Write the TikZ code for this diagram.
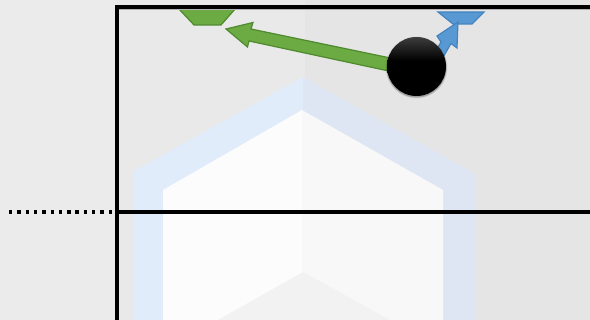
\documentclass[tikz,border=0pt]{standalone}
\definecolor{bgL}{HTML}{EBEBEB}
\definecolor{bgM}{HTML}{E9E9E9}
\definecolor{bgR}{HTML}{E5E5E5}
\definecolor{bluL}{HTML}{E0ECFA}
\definecolor{bluR}{HTML}{DEE5F3}
\definecolor{whL}{HTML}{FCFCFC}
\definecolor{whR}{HTML}{F8F8F8}
\definecolor{inn}{HTML}{F2F2F2}
\definecolor{grn}{HTML}{6CAA43}
\definecolor{grnD}{HTML}{4F8A2E}
\definecolor{blu}{HTML}{5898D3}
\definecolor{bluD}{HTML}{4484BE}
\pgfdeclareverticalshading{ballshade}{100bp}{color(0bp)=(black);color(55bp)=(black);color(75bp)=(black!76!white);color(100bp)=(black!76!white)}
\tikzset{
  heavy/.style={line width=4.4pt,black,line cap=butt},
  dots/.style={line width=3.6pt,black,dash pattern=on 3.4pt off 4.9pt},
  greenshape/.style={fill=grn,draw=grnD,line width=1.2pt,line join=miter},
  blueshape/.style={fill=blu,draw=bluD,line width=1.2pt,line join=miter},
  ball/.style={circle,inner sep=0pt,minimum size=59pt,shading=ballshade}
}
\begin{document}
\begin{tikzpicture}[x=1pt,y=-1pt]
\useasboundingbox (0,0) rectangle (590,320);
% backdrop
\fill[bgL] (0,0) rectangle (590,320);
\fill[bgM] (117,0) rectangle (305,320);
\fill[bgR] (305,0) rectangle (590,320);
% blue hexagon
\fill[bluL] (134,320) -- (134,171) -- (303,77) -- (303,320) -- cycle;
\fill[bluR] (303,320) -- (303,77) -- (475,174) -- (475,320) -- cycle;
% white hexagon
\fill[whL] (163,320) -- (163,190) -- (302,110) -- (302,320) -- cycle;
\fill[whR] (302,320) -- (302,110) -- (443,190) -- (443,320) -- cycle;
% inner grey
\fill[inn] (218,320) -- (303,272) -- (390,320) -- cycle;
% green trapezoid and arrow
\draw[greenshape] (178,8) -- (236,8) -- (221,25) -- (194,25) -- cycle;
\draw[greenshape] (226,29) -- (253,22.5) -- (251,29) -- (400,60) -- (398,73) -- (249,41) -- (247.5,47) -- cycle;
% blue trapezoid and arrow
\draw[blueshape] (438,12) -- (484,12) -- (472,24) -- (453,24) -- cycle;
\draw[blueshape] (458,22) -- (437,36) -- (441,42) -- (425,70) -- (430,80) -- (451,43.5) -- (457,48) -- cycle;
% frame
\coordinate (tl) at (117,7);
\coordinate (tr) at (590,7);
\coordinate (bl) at (117,320);
\coordinate (hm) at (117,212);
\coordinate (hr) at (590,212);
\coordinate (dl) at (9,212);
\draw[black!30,line width=1pt] (115,9.7) -- (590,9.7);
\draw[heavy] (114.8,7) -- (tr);
\draw[heavy] (tl) -- (bl);
\draw[heavy] (hm) -- (hr);
\draw[dots] (dl) -- (hm);
% ball with soft shadow
\fill[black,opacity=.05] (416.5,67.5) circle (31pt);
\fill[black,opacity=.10] (416.5,67.5) circle (30.4pt);
\fill[black,opacity=.18] (416.5,67.5) circle (29.9pt);
\node[ball] (ballnode) at (416.5,66.5) {};
\end{tikzpicture}
\end{document}
